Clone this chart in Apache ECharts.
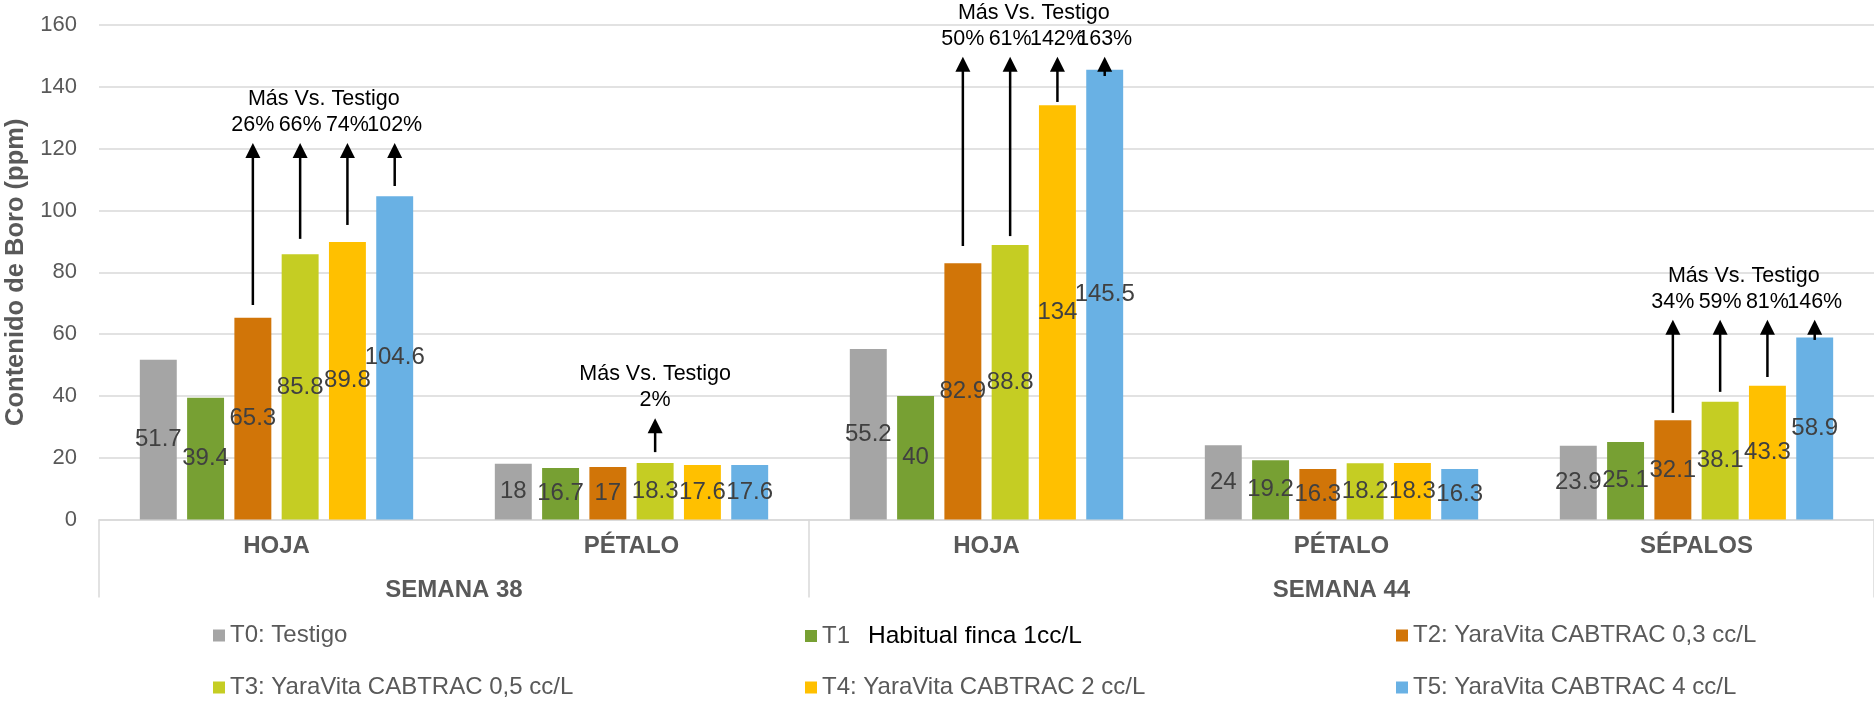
<!DOCTYPE html>
<html>
<head>
<meta charset="utf-8">
<script src="https://cdn.jsdelivr.net/npm/echarts@6/dist/echarts.min.js"></script>
<style>
  html, body { margin: 0; padding: 0; background: #ffffff; }
  #chart { width: 1874px; height: 702px; }
</style>
</head>
<body>
<div id="chart"></div>
<script>
// Organ sampled per bar group, and how many groups belong to each week
const organs = ['HOJA', 'PÉTALO', 'HOJA', 'PÉTALO', 'SÉPALOS'];
const weeks = ['SEMANA 38', 'SEMANA 44'];
const weekSizes = [2, 3];

// Treatments
const treatmentNames = [
  'T0: Testigo',
  'T1 Habitual finca 1cc/L',
  'T2: YaraVita CABTRAC 0,3 cc/L',
  'T3: YaraVita CABTRAC 0,5 cc/L',
  'T4: YaraVita CABTRAC 2 cc/L',
  'T5: YaraVita CABTRAC 4 cc/L'
];

// Boron content (ppm) per treatment, one value per organ group
const t0 = [51.7, 18, 55.2, 24, 23.9];
const t1 = [39.4, 16.7, 40, 19.2, 25.1];
const t2 = [65.3, 17, 82.9, 16.3, 32.1];
const t3 = [85.8, 18.3, 88.8, 18.2, 38.1];
const t4 = [89.8, 17.6, 134, 18.3, 43.3];
const t5 = [104.6, 17.6, 145.5, 16.3, 58.9];
const treatmentValues = [t0, t1, t2, t3, t4, t5];

// "Más Vs. Testigo" increase arrows: group, treatment, start and tip (ppm), label
const headerText = 'Más Vs. Testigo';
const arrowCat    = [0, 0, 0, 0, 1, 2, 2, 2, 2, 4, 4, 4, 4];
const arrowSeries = [2, 3, 4, 5, 3, 2, 3, 4, 5, 2, 3, 4, 5];
const arrowFrom   = [69.4, 90.8, 95.3, 107.9, 21.8, 88.5, 91.7, 135.1, 143.5, 34.5, 41.3, 46.1, 58.1];
const arrowTo     = [121.8, 121.8, 121.8, 121.8, 32.8, 149.7, 149.7, 149.7, 149.7, 64.6, 64.6, 64.6, 64.6];
const arrowPct    = ['26%', '66%', '74%', '102%', '2%', '50%', '61%', '142%', '163%', '34%', '59%', '81%', '146%'];

// Y axis ticks
const yMin = 0, yMax = 160, yStep = 20;

const colors = ['#A5A5A5', '#77A033', '#D17508', '#C5CD23', '#FFC000', '#69B1E4'];
const FONT = "'Liberation Sans', Arial, sans-serif";
const GREY_TEXT = '#595959';
const GRID_LINE = '#D9D9D9';
const BAR_GAP = 0.28;
const CAT_GAP = 0.23;

// Week separators and label centres, in category units
const weekBounds = [0];
weekSizes.forEach(n => weekBounds.push(weekBounds[weekBounds.length - 1] + n));
const weekCenters = weekSizes.map((n, i) => weekBounds[i] + n / 2);

// Centre x of the bar of treatment s inside category cat
function barCenterX(api, cat, s) {
  const n = treatmentValues.length;
  const band = api.size([1, 0])[0];
  const used = band * (1 - CAT_GAP);
  const w = used / (n + (n - 1) * BAR_GAP);
  const cx = api.coord([cat, 0])[0];
  return cx - used / 2 + s * w * (1 + BAR_GAP) + w / 2;
}

const arrowData = arrowCat.map((c, i) => [c, arrowSeries[i], arrowFrom[i], arrowTo[i], arrowPct[i]]);

// One header per annotated group, centred over its arrows
const headerData = [];
arrowCat.forEach((c, i) => {
  const last = headerData[headerData.length - 1];
  if (last && last[0] === c) {
    last[2] = arrowSeries[i];
  } else {
    headerData.push([c, arrowSeries[i], arrowSeries[i], arrowTo[i]]);
  }
});

const barSeries = treatmentNames.map((name, i) => ({
  name: name,
  type: 'bar',
  xAxisIndex: 0,
  data: treatmentValues[i],
  barGap: (BAR_GAP * 100) + '%',
  barCategoryGap: (CAT_GAP * 100) + '%',
  itemStyle: { color: colors[i] },
  label: {
    show: true,
    position: 'inside',
    color: '#404040',
    fontSize: 24,
    fontFamily: FONT
  },
  emphasis: { disabled: true }
}));

const arrowSeriesDef = {
  name: 'arrows',
  type: 'custom',
  xAxisIndex: 0,
  clip: false,
  silent: true,
  z: 5,
  encode: { x: 0, y: [2, 3] },
  data: arrowData,
  renderItem: function (params, api) {
    const cat = api.value(0);
    const s = api.value(1);
    const x = barCenterX(api, cat, s);
    const yFrom = api.coord([cat, api.value(2)])[1];
    const yTip = api.coord([cat, api.value(3)])[1];
    const head = 15;
    const pct = arrowData[params.dataIndex][4];
    return {
      type: 'group',
      children: [
        {
          type: 'line',
          shape: { x1: x, y1: yFrom, x2: x, y2: yTip + head - 1 },
          style: { stroke: '#000000', lineWidth: 2.5 }
        },
        {
          type: 'polygon',
          shape: { points: [[x, yTip], [x - 7.5, yTip + head], [x + 7.5, yTip + head]] },
          style: { fill: '#000000' }
        },
        {
          type: 'text',
          style: {
            text: pct, x: x, y: yTip - 18,
            align: 'center', verticalAlign: 'middle',
            fontSize: 21.5, fontFamily: FONT, fill: '#000000'
          }
        }
      ]
    };
  }
};

const headerSeriesDef = {
  name: 'headers',
  type: 'custom',
  xAxisIndex: 0,
  clip: false,
  silent: true,
  z: 5,
  encode: { x: 0, y: 3 },
  data: headerData,
  renderItem: function (params, api) {
    const cat = api.value(0);
    const xa = barCenterX(api, cat, api.value(1));
    const xb = barCenterX(api, cat, api.value(2));
    const yTip = api.coord([cat, api.value(3)])[1];
    return {
      type: 'text',
      style: {
        text: headerText, x: (xa + xb) / 2, y: yTip - 44,
        align: 'center', verticalAlign: 'middle',
        fontSize: 21.5, fontFamily: FONT, fill: '#000000'
      }
    };
  }
};

// One legend per treatment, laid out in three columns and two rows
const legendCols = [213, 805, 1396];
const legendRows = [623.5, 675.5];
const legends = treatmentNames.map((name, i) => ({
  data: [name],
  left: legendCols[i % 3],
  top: legendRows[Math.floor(i / 3)],
  padding: 0,
  icon: 'rect',
  itemWidth: 12,
  itemHeight: 12,
  selectedMode: false,
  formatter: function (n) {
    if (n.indexOf('T1 ') === 0) {
      return '{a|T1}{b|' + n.slice(3) + '}';
    }
    return n;
  },
  textStyle: {
    fontSize: 24,
    color: GREY_TEXT,
    fontFamily: FONT,
    rich: {
      a: { fontSize: 24, color: GREY_TEXT, fontFamily: FONT },
      b: { fontSize: 24.5, color: '#000000', fontFamily: FONT, padding: [0, 0, 0, 18] }
    }
  }
}));

const option = {
  animation: false,
  backgroundColor: '#ffffff',
  textStyle: { fontFamily: FONT },
  grid: {
    left: 99, right: 0, top: 25, bottom: 182.5,
    containLabel: false,
    outerBoundsMode: 'none'
  },
  legend: legends,
  xAxis: [
    {
      type: 'category',
      data: organs,
      axisLine: { show: true, lineStyle: { color: GRID_LINE, width: 1.5 } },
      axisTick: { show: false },
      axisLabel: {
        interval: 0,
        margin: 15,
        fontSize: 24,
        fontWeight: 'bold',
        color: GREY_TEXT,
        fontFamily: FONT
      },
      splitLine: { show: false }
    },
    {
      type: 'value',
      position: 'bottom',
      min: 0,
      max: organs.length,
      axisLine: { show: false },
      splitLine: { show: false },
      axisTick: {
        show: true,
        customValues: weekBounds,
        length: 78,
        lineStyle: { color: GRID_LINE, width: 1.5 }
      },
      axisLabel: {
        customValues: weekCenters,
        formatter: function (v) {
          const k = weekCenters.indexOf(v);
          return k >= 0 ? weeks[k] : '';
        },
        margin: 59,
        fontSize: 24,
        fontWeight: 'bold',
        color: GREY_TEXT,
        fontFamily: FONT
      }
    }
  ],
  yAxis: {
    type: 'value',
    min: yMin,
    max: yMax,
    interval: yStep,
    name: 'Contenido de Boro (ppm)',
    nameLocation: 'middle',
    nameRotate: 90,
    nameGap: 64,
    nameTextStyle: { fontSize: 25.5, fontWeight: 'bold', color: GREY_TEXT, fontFamily: FONT },
    axisLine: { show: false },
    axisTick: { show: false },
    axisLabel: { fontSize: 22, color: GREY_TEXT, margin: 22, fontFamily: FONT },
    splitLine: { lineStyle: { color: GRID_LINE, width: 1.5 } }
  },
  series: barSeries.concat([arrowSeriesDef, headerSeriesDef])
};

const chart = echarts.init(document.getElementById('chart'), null, { renderer: 'canvas' });
chart.setOption(option);
</script>
</body>
</html>
